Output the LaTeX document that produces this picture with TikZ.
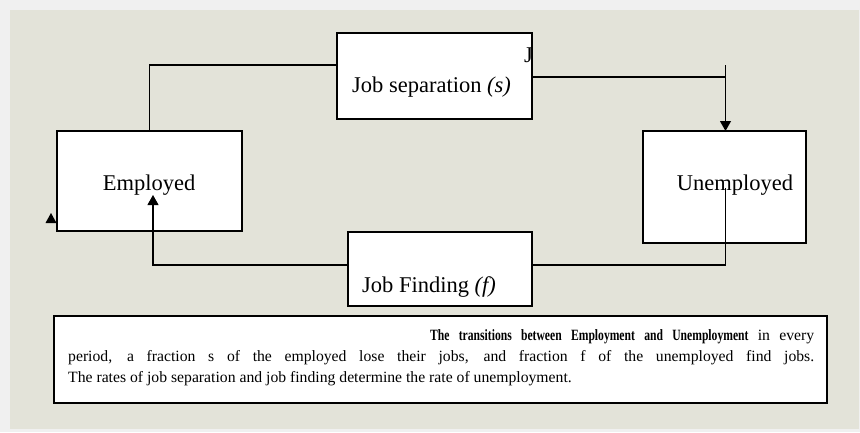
\documentclass[tikz,border=0pt]{standalone}
\usepackage{fontspec}
\usepackage{graphicx}
\setmainfont{Liberation Serif}
\usetikzlibrary{arrows.meta,calc}
\definecolor{pagebg}{HTML}{F0F0F0}
\definecolor{panelbg}{HTML}{E3E3D9}
% narrow bold word for the caption heading
\newcommand\capword[1]{\scalebox{0.74}[1]{\textbf{#1}}}
\begin{document}
\begin{tikzpicture}[x=1pt,y=-1pt,
  box/.style={draw=black, line width=1.3pt, fill=white, inner sep=0pt, outer sep=0pt},
  link/.style={draw=black, line width=1.1pt},
  flow/.style={link, -{Triangle[length=10pt,width=11pt]}},
  lbl/.style={font=\fontsize{22.5}{27}\selectfont, inner sep=0pt, anchor=base west},
  notetext/.style={anchor=base west, inner sep=0pt, text width=746pt, align=justify,
    font=\fontsize{15.7}{21}\selectfont}
]
% page and panel
\fill[pagebg] (0,0) rectangle (860,432);
\useasboundingbox (0,0) rectangle (860,432);
\fill[panelbg] (10,10) rectangle (859,429);

% state boxes
\node[box, minimum width=185pt, minimum height=100pt] (emp)   at (149.5,181) {};
\node[box, minimum width=163pt, minimum height=112pt] (unemp) at (724.5,187) {};
\node[box, minimum width=195pt, minimum height=86pt]  (sep)   at (434.5,76)  {};
\node[box, minimum width=184pt, minimum height=74pt]  (find)  at (440,269)   {};

% labels
\node[lbl] (empl)   at (102.7,190.7) {Employed};
\node[lbl] (unempl) at (676.7,190.7) {Unemployed};
\node[lbl] (sepl)   at (352,92.7)    {Job separation \textit{(s)}};
\node[lbl] (findl)  at (362,292)     {Job Finding \textit{(f)}};
\begin{scope}
  \clip (sep.south west) rectangle (sep.north east);
  \node[lbl] (jmark) at (524,62) {J};
\end{scope}

% flows
\draw[link] (emp.north) |- ([yshift=11pt]sep.west);
\draw[link] ([yshift=-1pt]sep.east) -- ($(sep.east -| unemp.north)+(1,1)$);
\draw[flow] ($(sep.east -| unemp.north)+(1,-11)$) -- ([xshift=1pt]unemp.north);
\draw[link] ($(unemp.center)+(1,1)$) |- ([yshift=4pt]find.east);
\draw[flow] ([yshift=4pt]find.west) -| ($(emp.center)+(3.5,14)$);

% stray arrowhead beside the employed box
\fill[black] (45.5,223) -- (56.5,223) -- (51,213) -- cycle;

% caption frame and text
\node[box, anchor=north west, minimum width=773pt, minimum height=87pt] (cap) at (54,316) {};
\node[notetext] (captext) at (68,340) {\hspace*{362pt}\capword{The} \capword{transitions} \capword{between} \capword{Employment} \capword{and} \capword{Unemployment} in every\linebreak
period, a fraction s of the employed lose their jobs, and fraction f of the unemployed find jobs.\linebreak
The rates of job separation and job finding determine the rate of unemployment.};
\end{tikzpicture}
\end{document}
